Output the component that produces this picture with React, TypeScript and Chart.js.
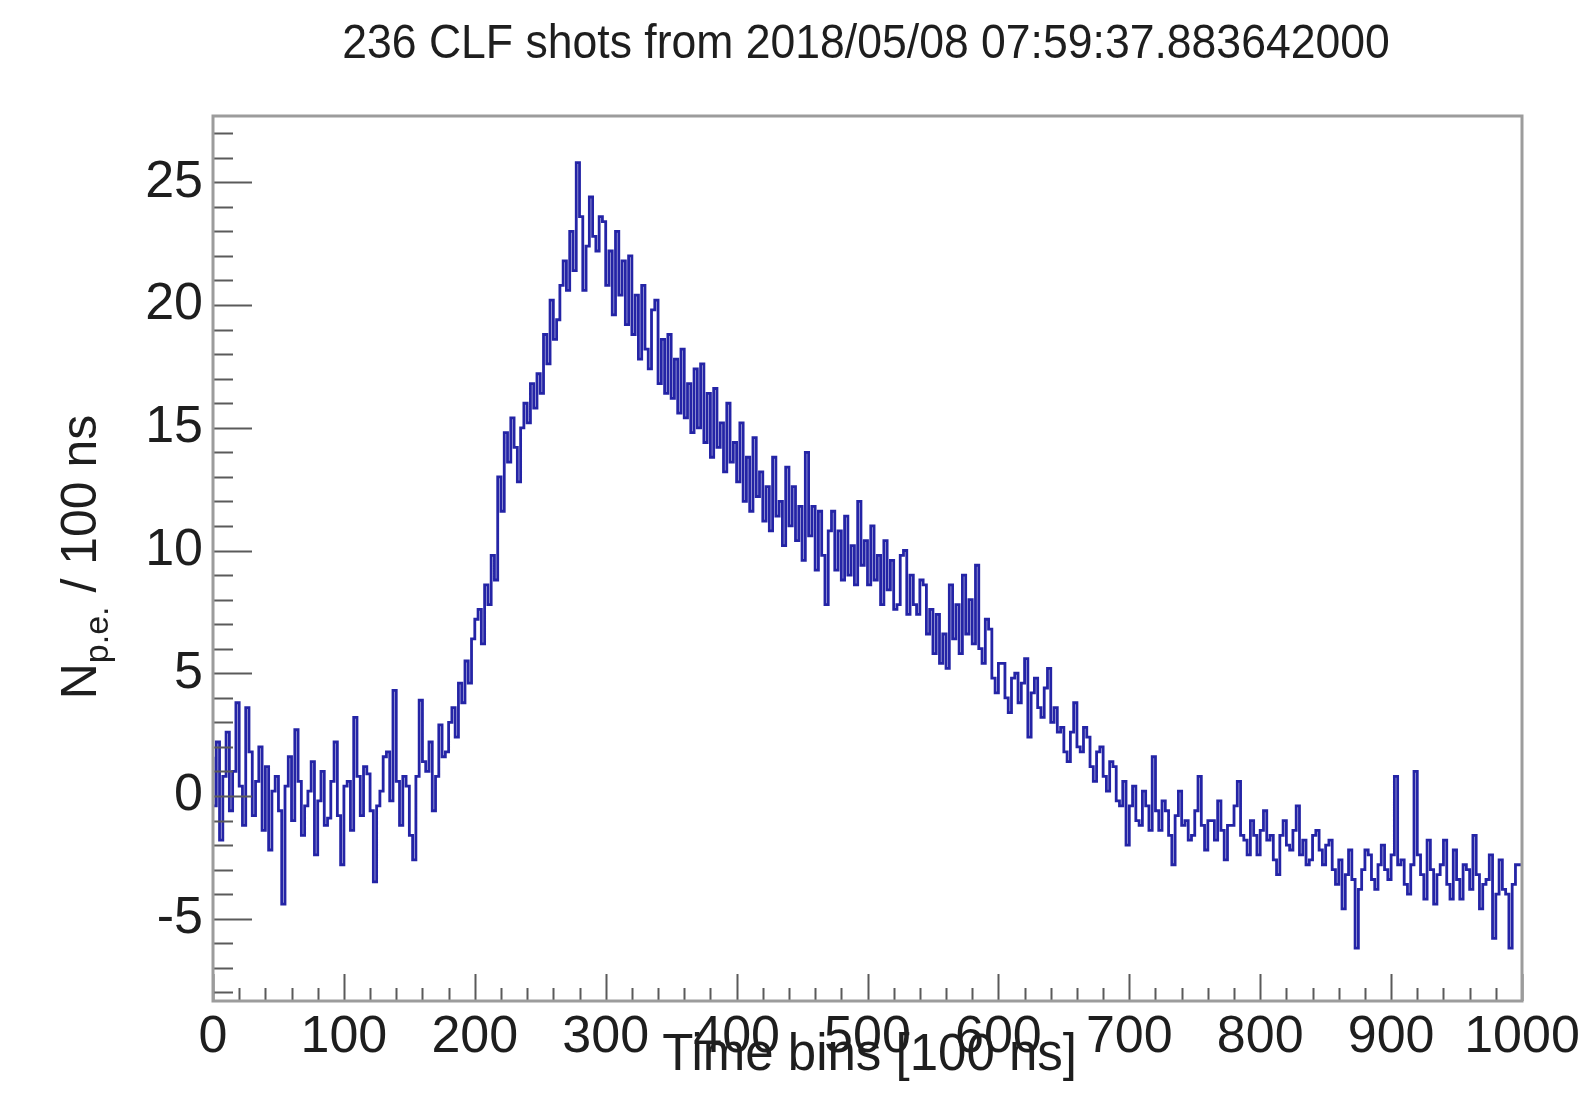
import React, { useEffect, useRef } from "react";
import { Chart, registerables } from "chart.js";

Chart.register(...registerables);

// ---- data ----
const TITLE = "236 CLF shots from 2018/05/08 07:59:37.883642000";
const X_TITLE = "Time bins [100 ns]";
const Y_TITLE_MAIN = "N";
const Y_TITLE_SUB = "p.e.";
const Y_TITLE_REST = " / 100 ns";

const BIN_WIDTH = 2.5; // time bins per plotted step
const X_MIN = 0;
const X_MAX = 1000;
const Y_MIN = -8.35;
const Y_MAX = 27.7;

const xTickLabels = [0, 100, 200, 300, 400, 500, 600, 700, 800, 900, 1000];
const yTickLabels = [-5, 0, 5, 10, 15, 20, 25];

// N p.e. / 100 ns per step, read across the time axis
const counts0to100 = [
  1.6, -0.4, 2.2, -1.8, 0.8, 2.6, -0.6, 1.0, 3.8, 0.4, -1.2, 3.6, 1.8, -0.8, 0.6, 2.0, -1.4, 1.2, -2.2, 0.2,
  0.8, -0.6, -4.4, 0.4, 1.6, -1.0, 2.7, 0.6, -1.6, -0.4, 0.2, 1.4, -2.4, -0.2, 1.0, -1.2, -0.9, 0.6, 2.2, -0.8,
];
const counts100to200 = [
  -2.8, 0.4, 0.6, -1.4, 3.2, 0.8, -0.8, 1.2, 0.9, -0.6, -3.5, -0.4, 0.2, 1.6, 1.8, -0.2, 4.3, 0.6, -1.2, 0.8,
  0.4, -1.6, -2.6, 0.8, 3.9, 1.4, 1.0, 2.2, -0.6, 0.8, 2.9, 1.6, 1.8, 3.0, 3.6, 2.4, 4.6, 3.8, 5.5, 4.6,
];
const counts200to300 = [
  6.4, 7.2, 7.6, 6.2, 8.6, 7.8, 9.8, 8.8, 13.0, 11.6, 14.8, 13.6, 15.4, 14.2, 12.8, 15.0, 16.0, 15.2, 16.8, 15.8,
  17.2, 16.4, 18.8, 17.6, 20.2, 18.6, 19.4, 20.8, 21.8, 20.6, 23.0, 21.4, 25.8, 23.6, 20.6, 22.4, 24.4, 22.8, 22.2, 23.6,
];
const counts300to400 = [
  23.4, 20.8, 22.2, 19.6, 23.0, 20.4, 21.8, 19.2, 22.0, 18.8, 20.4, 17.8, 20.8, 18.2, 17.4, 19.8, 20.2, 16.8, 18.6, 16.4,
  18.8, 16.2, 17.8, 15.6, 18.2, 15.4, 16.8, 14.8, 17.4, 15.0, 17.6, 14.4, 16.4, 13.8, 16.6, 14.2, 15.2, 13.2, 16.0, 13.6,
];
const counts400to500 = [
  14.4, 12.8, 15.2, 12.0, 13.8, 11.6, 14.6, 12.2, 13.2, 11.2, 12.6, 10.8, 13.8, 11.4, 12.0, 10.2, 13.4, 11.0, 12.6, 10.4,
  11.8, 9.6, 14.0, 10.6, 11.8, 9.2, 11.6, 9.8, 7.8, 10.8, 11.6, 9.2, 10.8, 8.8, 11.4, 9.0, 10.2, 8.6, 12.0, 9.4,
];
const counts500to600 = [
  10.4, 8.6, 11.0, 8.8, 9.8, 7.8, 10.4, 8.4, 9.6, 7.6, 7.8, 9.8, 10.0, 7.4, 9.0, 7.8, 7.4, 8.8, 8.6, 6.6,
  7.6, 5.8, 7.4, 5.4, 6.6, 5.2, 8.6, 6.4, 7.8, 5.8, 9.0, 6.6, 8.0, 6.2, 9.4, 6.0, 5.4, 7.2, 6.8, 4.8,
];
const counts600to700 = [
  4.2, 5.4, 5.4, 4.0, 3.4, 4.8, 5.0, 3.8, 4.6, 5.6, 2.4, 4.2, 4.8, 3.6, 3.2, 4.4, 5.2, 3.0, 3.6, 2.6,
  2.8, 1.8, 1.4, 2.6, 3.8, 2.0, 1.8, 2.8, 2.4, 1.2, 0.6, 1.8, 2.0, 0.8, 0.2, 1.4, 1.2, -0.2, -0.4, 0.6,
];
const counts700to800 = [
  -2.0, -0.4, 0.4, -1.0, -1.2, 0.2, -0.4, -1.4, 1.6, -0.6, -1.4, -0.2, -0.6, -1.6, -2.8, -0.8, 0.2, -1.2, -1.0, -1.8,
  -1.6, -0.6, 0.8, -1.2, -2.2, -1.0, -1.0, -1.8, -0.2, -1.4, -2.6, -1.2, -1.2, -0.4, 0.6, -1.6, -1.8, -2.4, -1.0, -1.6,
];
const counts800to900 = [
  -2.4, -1.4, -0.6, -1.8, -1.6, -2.6, -3.2, -1.6, -1.0, -2.0, -2.2, -1.4, -0.4, -2.4, -1.8, -2.8, -2.6, -1.6, -1.4, -2.2,
  -2.8, -2.0, -1.8, -3.0, -3.6, -2.6, -4.6, -3.2, -2.2, -3.4, -6.2, -3.8, -3.0, -2.2, -2.4, -3.4, -3.8, -2.8, -2.0, -3.0,
];
const counts900to1000 = [
  -3.4, -2.4, 0.8, -2.8, -2.6, -3.6, -4.0, -2.8, 1.0, -2.4, -3.2, -4.2, -1.8, -3.0, -4.4, -3.2, -2.8, -1.8, -3.6, -4.2,
  -2.2, -3.4, -4.2, -2.8, -3.0, -3.8, -1.6, -3.2, -4.6, -3.6, -3.4, -2.4, -5.8, -4.0, -2.6, -3.8, -4.0, -6.2, -3.6, -2.8,
];

const counts = [
  ...counts0to100, ...counts100to200, ...counts200to300, ...counts300to400, ...counts400to500,
  ...counts500to600, ...counts600to700, ...counts700to800, ...counts800to900, ...counts900to1000,
];

const FONT = "'Liberation Sans', Arial, Helvetica, sans-serif";
const LINE_COLOR = "rgb(36,36,166)";
const TEXT_COLOR = "#1e1e1e";

const rootPlugin = {
  id: "rootStyle",
  afterDatasetsDraw(chart: any) {
    const { ctx, chartArea: a, scales } = chart;
    const x = scales.x;
    const y = scales.y;
    ctx.save();
    ctx.strokeStyle = "#5a5a5a";
    ctx.lineWidth = 2;
    ctx.beginPath();
    for (let v = X_MIN; v <= X_MAX; v += 20) {
      const px = Math.round(x.getPixelForValue(v)) + 0.5;
      const len = v % 100 === 0 ? 27 : 13;
      ctx.moveTo(px, a.bottom);
      ctx.lineTo(px, a.bottom - len);
    }
    for (let v = Math.ceil(Y_MIN); v <= Math.floor(Y_MAX); v += 1) {
      const py = Math.round(y.getPixelForValue(v)) + 0.5;
      const len = v % 5 === 0 ? 39 : 20;
      ctx.moveTo(a.left, py);
      ctx.lineTo(a.left + len, py);
    }
    ctx.stroke();
    ctx.strokeStyle = "#9c9c9c";
    ctx.lineWidth = 3;
    ctx.strokeRect(a.left, a.top, a.right - a.left, a.bottom - a.top);
    ctx.restore();
  },
  afterDraw(chart: any) {
    const { ctx } = chart;
    ctx.save();
    ctx.fillStyle = TEXT_COLOR;
    // title (slightly condensed, as in the reference)
    ctx.save();
    ctx.translate(866, 45);
    ctx.scale(0.928, 1);
    ctx.font = `48px ${FONT}`;
    ctx.textAlign = "center";
    ctx.textBaseline = "middle";
    ctx.fillText(TITLE, 0, 0);
    ctx.restore();
    // x title
    ctx.font = `51px ${FONT}`;
    ctx.textAlign = "right";
    ctx.textBaseline = "middle";
    ctx.fillText(X_TITLE, 1077, 1056);
    // y title with subscript, rotated
    ctx.translate(78, 557);
    ctx.rotate(-Math.PI / 2);
    const mainFont = `50px ${FONT}`;
    const subFont = `34px ${FONT}`;
    ctx.font = mainFont;
    const wN = ctx.measureText(Y_TITLE_MAIN).width;
    const wRest = ctx.measureText(Y_TITLE_REST).width;
    ctx.font = subFont;
    const wSub = ctx.measureText(Y_TITLE_SUB).width;
    const total = wN + wSub + wRest;
    let cx = -total / 2;
    ctx.textAlign = "left";
    ctx.textBaseline = "alphabetic";
    ctx.font = mainFont;
    ctx.fillText(Y_TITLE_MAIN, cx, 18);
    cx += wN;
    ctx.font = subFont;
    ctx.fillText(Y_TITLE_SUB, cx, 30);
    cx += wSub;
    ctx.font = mainFont;
    ctx.fillText(Y_TITLE_REST, cx, 18);
    ctx.restore();
  },
};

export default function App() {
  const ref = useRef<HTMLCanvasElement | null>(null);

  useEffect(() => {
    document.body.style.margin = "0";
    if (!ref.current) return;
    const points = counts.map((c, i) => ({ x: X_MIN + i * BIN_WIDTH, y: c }));
    points.push({ x: X_MAX, y: counts[counts.length - 1] });

    const chart = new Chart(ref.current, {
      type: "line",
      data: {
        datasets: [
          {
            data: points,
            stepped: "after",
            borderColor: LINE_COLOR,
            borderWidth: 2.8,
            pointRadius: 0,
            fill: false,
            tension: 0,
          },
        ],
      },
      options: {
        animation: false,
        responsive: false,
        maintainAspectRatio: false,
        layout: { padding: { left: 0, right: 67, top: 116, bottom: 0 } },
        plugins: {
          legend: { display: false },
          title: { display: false },
          tooltip: { enabled: false },
        },
        scales: {
          x: {
            type: "linear",
            min: X_MIN,
            max: X_MAX,
            grid: { display: false },
            border: { display: false },
            afterFit: (s: any) => {
              s.height = 107;
            },
            afterBuildTicks: (s: any) => {
              s.ticks = xTickLabels.map((v) => ({ value: v }));
            },
            ticks: {
              autoSkip: false,
              maxRotation: 0,
              padding: -3,
              color: TEXT_COLOR,
              font: { family: FONT, size: 52 },
              callback: (v: any) => String(v),
            },
          },
          y: {
            type: "linear",
            min: Y_MIN,
            max: Y_MAX,
            grid: { display: false },
            border: { display: false },
            afterFit: (s: any) => {
              s.width = 213;
            },
            afterBuildTicks: (s: any) => {
              s.ticks = yTickLabels.map((v) => ({ value: v }));
            },
            ticks: {
              autoSkip: false,
              padding: 2,
              color: TEXT_COLOR,
              font: { family: FONT, size: 52 },
              callback: (v: any) => String(v),
            },
          },
        },
      },
      plugins: [rootPlugin],
    });
    return () => chart.destroy();
  }, []);

  return (
    <div style={{ width: 1589, height: 1108, background: "#fff" }}>
      <canvas ref={ref} width={1589} height={1108} style={{ display: "block" }} />
    </div>
  );
}
